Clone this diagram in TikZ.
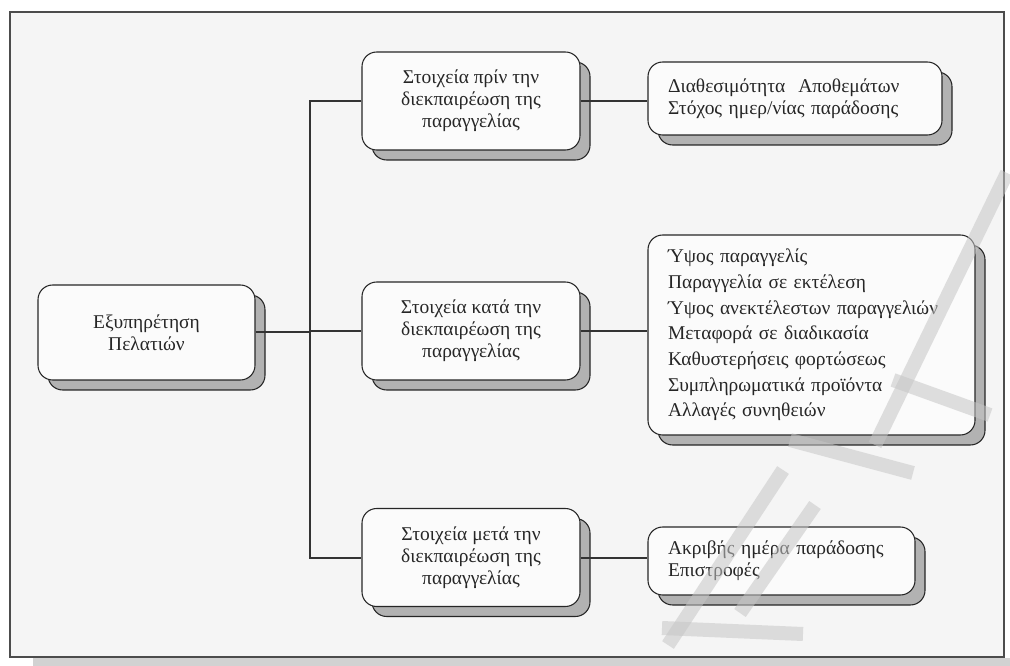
\documentclass[tikz,border=0pt]{standalone}
\usepackage{fontspec}
\setmainfont{Liberation Serif}
\usetikzlibrary{shadows}
\begin{document}
\begin{tikzpicture}[x=0.75pt,y=-0.75pt,
  box/.style={draw=black!85, line width=0.8pt, fill=gray!3, rounded corners=11pt,
    inner sep=0pt, font=\fontsize{14.6}{16.6}\selectfont, text=black!85,
    drop shadow={shadow xshift=7.5pt, shadow yshift=-7.5pt, opacity=1,
      fill=gray!60, draw=black!85, line width=0.8pt}},
  midbox/.style={box, align=center, minimum width=163.5pt, minimum height=73.5pt},
  listbox/.style={box, align=left, inner xsep=15pt},
  link/.style={line width=1.5pt, draw=black!80},
  mark stroke/.style={line width=10.5pt, draw=gray!45, opacity=0.55}]

% page and frame
\useasboundingbox (0,0) rectangle (1010,666);
\fill[white] (0,0) rectangle (1010,666);
\fill[gray!35] (33,658) rectangle (1010,666);
\draw[gray!60!black, line width=1pt, fill=gray!8] (10,12) rectangle (1004,657);

% boxes
\node[midbox, minimum width=162.75pt, minimum height=71.25pt] (serv) at (146.5,332.5)
  {Εξυπηρέτηση\\Πελατιών};
\node[midbox] (pre)  at (471,101) {Στοιχεία πρίν την\\διεκπαιρέωση της\\παραγγελίας};
\node[midbox] (dur)  at (471,331) {Στοιχεία κατά την\\διεκπαιρέωση της\\παραγγελίας};
\node[midbox] (post) at (471,557.5) {Στοιχεία μετά την\\διεκπαιρέωση της\\παραγγελίας};

\node[listbox, text width=190.5pt, minimum height=54.75pt] (avail) at (795,98.5)
  {Διαθεσιμότητα\ \ Αποθεμάτων\\Στόχος ημερ/νίας παράδοσης};
\node[listbox, text width=215.25pt, minimum height=150pt,
  font=\fontsize{14.6}{19.3}\selectfont] (orders) at (811.5,335)
  {Ύψος παραγγελίς\\Παραγγελία σε εκτέλεση\\Ύψος ανεκτέλεστων παραγγελιών\\Μεταφορά σε διαδικασία\\Καθυστερήσεις φορτώσεως\\Συμπληρωματικά προϊόντα\\Αλλαγές συνηθειών};
\node[listbox, text width=170.25pt, minimum height=51pt] (deliv) at (781.5,561)
  {Ακριβής ημέρα παράδοσης\\Επιστροφές};

% tree connectors
\coordinate (trunk) at (310,101);
\draw[link] (pre.west) -- (pre.west -| trunk) -- (post.west -| trunk) -- (post.west);
\draw[link] (serv.east) -- (serv.east -| trunk);
\draw[link] (dur.west -| trunk) -- (dur.west);
\draw[link] (pre.east) -- (pre.east -| avail.west);
\draw[link] (dur.east) -- (dur.east -| orders.west);
\draw[link] (post.east) -- (post.east -| deliv.west);

% faint diagonal watermark strokes over the page
\draw[mark stroke] (1007,173) -- (875,445);
\draw[mark stroke] (790,440) -- (913,473);
\draw[mark stroke] (893,380) -- (990,415);
\draw[mark stroke] (783,470) -- (668,645);
\draw[mark stroke] (815,505) -- (740,613);
\draw[mark stroke] (662,628) -- (803,634);
\end{tikzpicture}
\end{document}
